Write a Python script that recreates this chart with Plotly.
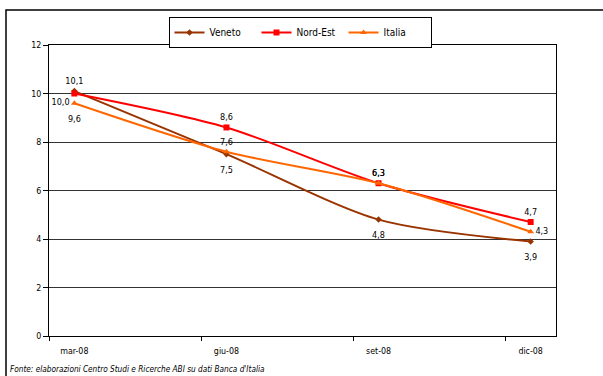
import plotly.graph_objects as go

categories = ["mar-08", "giu-08", "set-08", "dic-08"]
veneto = [10.1, 7.5, 4.8, 3.9]
nord_est = [10.0, 8.6, 6.3, 4.7]
italia = [9.6, 7.6, 6.3, 4.3]
y_ticks = [0, 2, 4, 6, 8, 10, 12]
source_note = "Fonte: elaborazioni Centro Studi e Ricerche ABI su dati Banca d'Italia"

W, H = 603, 376
L, R, T, B = 49, 556, 45, 336  # plot area in pixels
FONT = "Tahoma, 'DejaVu Sans Condensed', 'Liberation Sans', sans-serif"

# each category is one quarter; points sit in the middle of the first month slot
x_pos = [3 * i + 0.5 for i in range(len(categories))]
x_bounds = [3 * i for i in range(len(categories))]

def px(xp):
    return (xp - L) / (R - L)

def py(yp):
    return (B - yp) / (B - T)

fig = go.Figure()

series = [
    ("Veneto", veneto, "#993300", "diamond", 5,
     ["top center", "bottom center", "bottom center", "bottom center"]),
    ("Nord-Est", nord_est, "#FF0000", "square", 6,
     ["bottom left", "top center", "top center", "top center"]),
    ("Italia", italia, "#FF6600", "triangle-up", 6,
     ["bottom center", "top center", "top center", "middle right"]),
]

for name, vals, color, sym, msize, tpos in series:
    fig.add_trace(go.Scatter(
        x=x_pos, y=vals, name=name,
        mode="lines+markers",
        line=dict(color=color, width=2, shape="spline", smoothing=0.8),
        marker=dict(symbol=sym, size=msize, color=color),
        cliponaxis=False,
    ))

# data labels (invisible marker size only sets the label offset)
for name, vals, color, sym, msize, tpos in series:
    offs = [17 if (p == "bottom center") else 6 for p in tpos]
    fig.add_trace(go.Scatter(
        x=x_pos, y=vals, name=name + " labels",
        mode="markers+text",
        marker=dict(size=offs, opacity=0, color=color),
        texttemplate="%{y:.1f}",
        textposition=tpos,
        textfont=dict(family=FONT, size=9, color="#000000"),
        showlegend=False, hoverinfo="skip",
        cliponaxis=False,
    ))

fig.update_layout(
    width=W, height=H,
    margin=dict(l=L, r=W - R, t=T, b=H - B, pad=0),
    paper_bgcolor="white", plot_bgcolor="white",
    separators=",.",
    font=dict(family=FONT, size=10, color="#000000"),
    showlegend=True,
    legend=dict(
        orientation="h",
        x=px(300), xanchor="center",
        y=py(17), yanchor="top",
        bordercolor="#000000", borderwidth=1,
        bgcolor="white",
        font=dict(family=FONT, size=10, color="#000000"),
        entrywidth=42, entrywidthmode="pixels",
        itemwidth=30,
        tracegroupgap=0,
    ),
    xaxis=dict(
        range=[0, 10],
        tickmode="array", tickvals=x_pos, ticktext=categories,
        ticks="", showgrid=False, zeroline=False,
        showline=True, linecolor="#000000", linewidth=1, mirror=True,
        ticklabelstandoff=6,
        tickfont=dict(family=FONT, size=8.8, color="#000000"),
        minor=dict(tickmode="array", tickvals=x_bounds, ticks="outside",
                   ticklen=4, tickcolor="#000000", showgrid=False),
    ),
    yaxis=dict(
        range=[0, 12],
        tickmode="array", tickvals=y_ticks,
        ticks="outside", ticklen=5, tickcolor="#000000",
        showgrid=True, gridcolor="#333333", gridwidth=1,
        zeroline=False,
        showline=True, linecolor="#000000", linewidth=1, mirror=True,
        tickfont=dict(family=FONT, size=8.8, color="#000000"),
    ),
    shapes=[
        dict(type="rect", xref="paper", yref="paper",
             x0=px(6), x1=px(620), y0=py(10), y1=py(400),
             line=dict(color="#000000", width=1.5), fillcolor="rgba(0,0,0,0)",
             layer="below"),
    ],
    annotations=[
        dict(text=source_note, xref="paper", yref="paper",
             x=px(8), y=py(369), xanchor="left", yanchor="middle",
             showarrow=False,
             font=dict(family=FONT, size=8.2, color="#000000", style="italic")),
    ],
)

fig.write_html("out.html")
